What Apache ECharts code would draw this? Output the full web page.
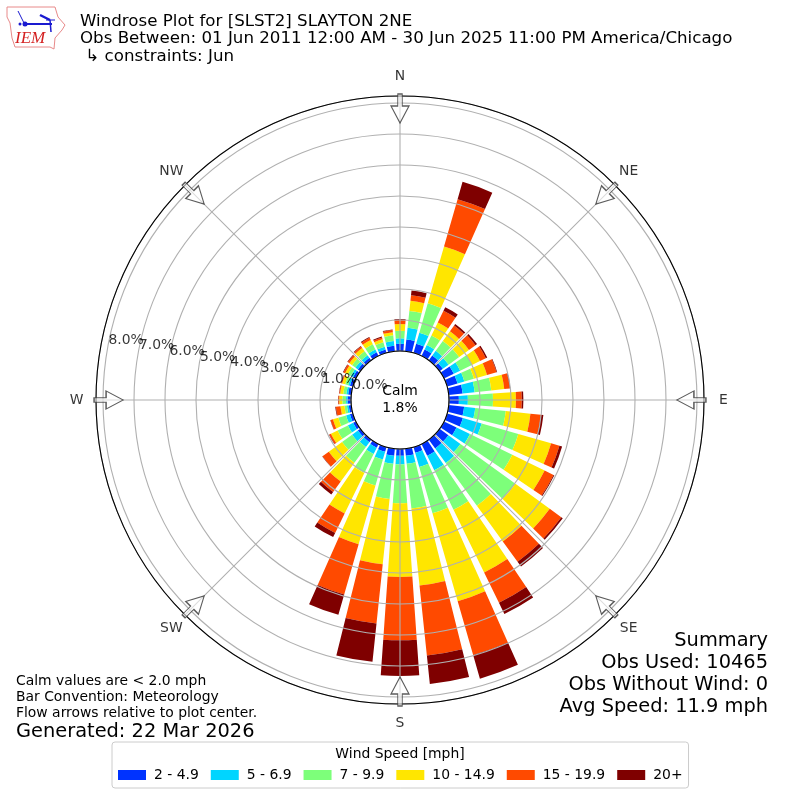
<!DOCTYPE html>
<html><head><meta charset="utf-8">
<style>html,body{margin:0;padding:0;background:#fff}#c{width:800px;height:800px}</style>
<script src="https://cdn.jsdelivr.net/npm/echarts@6/dist/echarts.min.js"></script>
</head><body><div id="c"></div>
<script>
// direction, clockwise from north, every 10 degrees
const directions = ['0','10','20','30','40','50','60','70','80','90','100','110','120','130','140','150','160','170','180','190','200','210','220','230','240','250','260','270','280','290','300','310','320','330','340','350'];
// percent of observations per speed class
const s2to49   = [.23,.38,.31,.23,.19,.13,.35,.35,.45,.32,.50,.53,.45,.35,.35,.42,.19,.23,.22,.23,.16,.13,.10,.10,.10,.10,.08,.11,.10,.10,.10,.10,.10,.13,.11,.18];
const s5to69   = [.18,.38,.37,.16,.19,.23,.23,.23,.39,.29,.36,.63,.48,.48,.58,.52,.48,.26,.28,.26,.26,.23,.19,.23,.19,.13,.06,.05,.06,.06,.08,.10,.10,.10,.10,.15];
const s7to99   = [.24,.55,.99,.34,.39,.42,.42,.32,.54,.81,.99,1.23,1.52,2.19,1.71,1.42,1.55,1.45,1.25,1.14,.87,.68,.63,.40,.37,.26,.08,.12,.10,.10,.11,.13,.16,.19,.15,.19];
const s10to149 = [.22,.33,1.90,.47,.39,.39,.29,.44,.42,.74,.80,1.10,1.16,1.37,1.42,2.25,2.95,2.50,2.38,2.12,1.97,1.45,.75,.53,.24,.18,.13,.10,.10,.10,.10,.11,.13,.15,.10,.10];
const s15to199 = [.13,.18,1.59,.42,.23,.26,.21,.32,.18,.19,.34,.28,.32,.46,.81,1.09,1.81,2.27,2.04,1.92,1.69,.70,.42,.25,.06,.08,.15,.03,.03,.03,.06,.06,.06,.08,.06,.07];
const s20plus  = [.03,.15,.58,.13,.06,.06,.05,.02,.02,.05,.08,.09,.03,.06,.19,.40,.79,.92,1.15,1.24,.68,.15,.10,.01,.01,.01,.02,.01,.01,.01,.02,.02,.02,.03,.03,.02];
const speedNames = ['2 - 4.9','5 - 6.9','7 - 9.9','10 - 14.9','15 - 19.9','20+'];
const speedColors = ['#0033ff','#00d5ff','#7dff7a','#ffe600','#ff4a00','#7f0000'];
const compass = ['N','NE','E','SE','S','SW','W','NW'];
const compassAngles = [0,45,90,135,180,225,270,315];
const radiusTicks = [0,1,2,3,4,5,6,7,8];
const radiusTickLabels = ['0.0%','1.0%','2.0%','3.0%','4.0%','5.0%','6.0%','7.0%','8.0%'];
const titleLines = ['Windrose Plot for [SLST2] SLAYTON 2NE','Obs Between: 01 Jun 2011 12:00 AM - 30 Jun 2025 11:00 PM America/Chicago',' ↳ constraints: Jun'];
const noteLines = ['Calm values are < 2.0 mph','Bar Convention: Meteorology','Flow arrows relative to plot center.'];
const summaryLines = ['Summary','Obs Used: 10465','Obs Without Wind: 0','Avg Speed: 11.9 mph'];
const rMax = 8.226;
const F = 'DejaVu Sans';
const seriesValues = [s2to49,s5to69,s7to99,s10to149,s15to199,s20plus];

const T = (text,left,top,size,extra)=>({text,left,top,padding:0,textStyle:Object.assign({fontFamily:F,fontSize:size,fontWeight:'normal',color:'#000',lineHeight:size*1.15},extra||{})});
const titles = [];
titleLines.forEach((t,i)=>titles.push(T(t,80,[12,29,47][i],16.67)));
noteLines.forEach((t,i)=>titles.push(T(t,16,[673,689,705][i],13.9)));
titles.push(T('Generated: 22 Mar 2026',16,721,19.4));
summaryLines.forEach((t,i)=>titles.push({text:t,right:32,top:[630,652,674,696][i],padding:0,textStyle:{fontFamily:F,fontSize:19.4,fontWeight:'normal',color:'#000',lineHeight:22}}));
titles.push({text:'Calm\n1.8%',left:400,top:383,textAlign:'center',padding:0,textStyle:{fontFamily:F,fontSize:13.9,fontWeight:'normal',color:'#000',lineHeight:17,align:'center'}});
titles.push({text:'Wind Speed [mph]',left:400,top:747,textAlign:'center',padding:0,textStyle:{fontFamily:F,fontSize:13.9,fontWeight:'normal',color:'#000'}});

const axisOff = {axisLine:{show:false},axisTick:{show:false},axisLabel:{show:false},splitLine:{show:false}};
const arrowPath = 'path://M7,0 L11,0 L11,12 L17,12 L9,29 L1,12 L7,12 Z';

const option = {
  animation:false,
  backgroundColor:'#fff',
  title:titles,
  polar:[
    {center:[400,400],radius:[49,304]},
    {center:[400,400],radius:[49,304]},
    {center:[400,400],radius:[49,304]}
  ],
  angleAxis:[
    Object.assign({polarIndex:0,type:'category',data:directions,startAngle:95,clockwise:true,boundaryGap:true},axisOff),
    {polarIndex:1,type:'value',min:0,max:360,interval:45,startAngle:90,clockwise:true,z:3,
      axisLine:{show:true,lineStyle:{color:'#000',width:1.1}},axisTick:{show:false},axisLabel:{show:false},
      splitLine:{show:true,lineStyle:{color:'#b0b0b0',width:1.1}}},
    Object.assign({polarIndex:2,type:'value',min:0,max:360,startAngle:169.55,clockwise:true},axisOff)
  ],
  radiusAxis:[
    Object.assign({polarIndex:0,type:'value',min:0,max:rMax},axisOff),
    {polarIndex:1,type:'value',min:0,max:rMax,interval:1,z:3,axisLine:{show:false},axisTick:{show:false},axisLabel:{show:false},
      splitLine:{show:true,lineStyle:{color:'#b0b0b0',width:1.1}}},
    Object.assign({polarIndex:2,type:'value',min:0,max:rMax,interval:1},axisOff)
  ],
  legend:{left:112,top:742,padding:[26,6,6,6],orient:'horizontal',itemWidth:28,itemHeight:10,itemGap:12,itemStyle:{borderWidth:0},icon:'rect',selectedMode:false,
    backgroundColor:'#fff',borderColor:'#ccc',borderWidth:1,borderRadius:3,
    textStyle:{fontFamily:F,fontSize:13.9,color:'#000',padding:[0,0,0,3]},data:speedNames},
  series:[
    ...speedNames.map((name,i)=>({name,type:'bar',coordinateSystem:'polar',polarIndex:0,stack:'wind',barWidth:'80%',z:2,
      itemStyle:{color:speedColors[i]},data:seriesValues[i]})),
    {type:'scatter',coordinateSystem:'polar',polarIndex:1,z:4,clip:false,silent:true,symbol:arrowPath,symbolSize:[18,29],
      symbolKeepAspect:false,
      itemStyle:{color:'rgba(255,255,255,0.7)',borderColor:'#333',borderWidth:1.2},
      data:compassAngles.map(a=>({value:[7.82,a],symbolRotate:-a}))},
    {type:'scatter',coordinateSystem:'polar',polarIndex:1,z:5,clip:false,silent:true,symbolSize:1,
      itemStyle:{color:'transparent'},
      label:{show:true,position:'inside',fontFamily:F,fontSize:13.9,color:'#000',formatter:p=>compass[p.dataIndex]},
      data:compassAngles.map(a=>[8.85,a])},
    {type:'scatter',coordinateSystem:'polar',polarIndex:2,z:5,clip:false,silent:true,symbolSize:1,
      itemStyle:{color:'transparent'},
      label:{show:true,position:'right',distance:0,offset:[0,-6],fontFamily:F,fontSize:13.9,color:'#000',formatter:p=>radiusTickLabels[p.dataIndex]},
      data:radiusTicks.map(v=>[v,0])}
  ],
  graphic:[{type:'group',silent:true,children:[
    {type:'polygon',shape:{points:[[7,7],[55,7],[58,17],[65,25],[62,30],[55,38],[54,49],[50,47],[15,47],[12,38],[10,23],[7,17]]},style:{fill:'#fff',stroke:'#e88a8a',lineWidth:1}},
    {type:'polyline',shape:{points:[[24,24],[52,24]]},style:{stroke:'#1a1ad0',lineWidth:2}},
    {type:'polyline',shape:{points:[[18,11],[20,15],[24,23]]},style:{stroke:'#1a1ad0',lineWidth:1}},
    {type:'polyline',shape:{points:[[40,15],[50,20]]},style:{stroke:'#1a1ad0',lineWidth:2.5}},
    {type:'polyline',shape:{points:[[46,20],[55,20]]},style:{stroke:'#1a1ad0',lineWidth:1}},
    {type:'polyline',shape:{points:[[50,20],[51,32]]},style:{stroke:'#1a1ad0',lineWidth:1.5}},
    {type:'circle',shape:{cx:25,cy:24,r:2.5},style:{fill:'#1a1ad0'}},
    {type:'circle',shape:{cx:20,cy:24,r:1.5},style:{fill:'#1a1ad0'}},
    {type:'text',x:15,y:30,style:{text:'IEM',font:'italic 17px "Liberation Serif"',fill:'#d42020'}}
  ]}]
};
const chart = echarts.init(document.getElementById('c'),null,{renderer:'canvas'});
chart.setOption(option);
</script></body></html>
